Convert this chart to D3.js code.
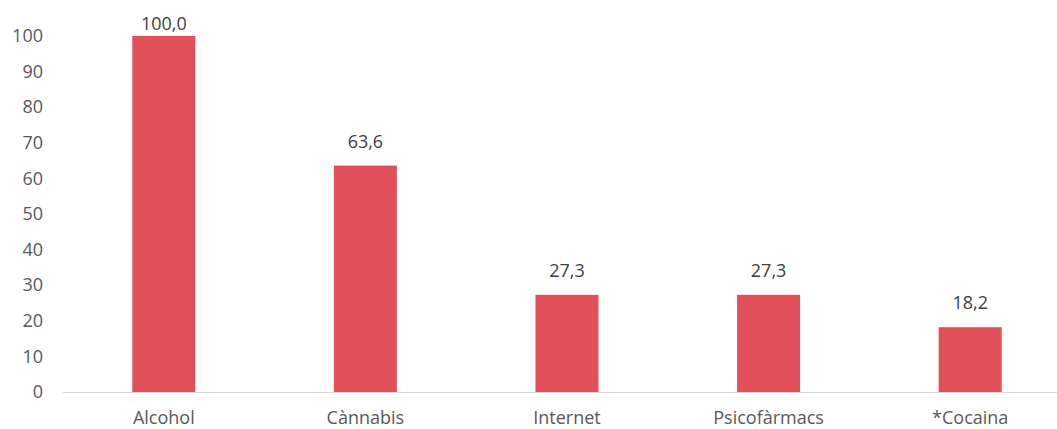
<!DOCTYPE html>
<html>
<head>
<meta charset="utf-8">
<script src="https://cdn.jsdelivr.net/npm/d3@7"></script>
<style>
  body { margin: 0; background: #fff; }
  text { font-family: "Open Sans", sans-serif; }
</style>
</head>
<body>
<div id="chart"></div>
<script>
const width = 1057;
const height = 429;

const categories = ['Alcohol', 'Cànnabis', 'Internet', 'Psicofàrmacs', '*Cocaina'];
const values = [100.0, 63.6, 27.3, 27.3, 18.2];
const yTicks = [0, 10, 20, 30, 40, 50, 60, 70, 80, 90, 100];

const barColor = '#E2505A';
const fmt = v => d3.format('.1f')(v).replace('.', ',');

const svg = d3.select('#chart')
  .append('svg')
    .attr('width', width)
    .attr('height', height);

const x = d3.scaleBand()
  .domain(categories)
  .range([63, 1071])
  .paddingInner(0.6875)
  .paddingOuter(0.34375);

const y = d3.scaleLinear().domain([0, 100]).range([392, 36]);

// y axis labels, no line
const yAxis = svg.append('g')
  .attr('transform', 'translate(43,0)')
  .call(d3.axisLeft(y).tickValues(yTicks).tickSize(0).tickPadding(0));
yAxis.select('.domain').remove();
yAxis.selectAll('text')
  .attr('font-size', 18)
  .attr('fill', '#595959')
  .attr('font-family', '"Open Sans", sans-serif');

// bars
svg.append('g').selectAll('rect')
  .data(categories)
  .join('rect')
    .attr('x', d => x(d))
    .attr('y', (d, i) => y(values[i]))
    .attr('width', x.bandwidth())
    .attr('height', (d, i) => y(0) - y(values[i]))
    .attr('fill', barColor);

// baseline
svg.append('line')
  .attr('x1', 63).attr('x2', width)
  .attr('y1', y(0) + 0.5).attr('y2', y(0) + 0.5)
  .attr('stroke', '#d9d9d9')
  .attr('stroke-width', 1);

// x axis labels
const xAxis = svg.append('g')
  .attr('transform', `translate(0,${y(0)})`)
  .call(d3.axisBottom(x).tickSize(0).tickPadding(0));
xAxis.select('.domain').remove();
xAxis.selectAll('text')
  .attr('dy', null)
  .attr('y', 32)
  .attr('font-size', 18)
  .attr('fill', '#595959')
  .attr('font-family', '"Open Sans", sans-serif');

// data labels
svg.append('g').selectAll('text')
  .data(categories)
  .join('text')
    .attr('x', d => x(d) + x.bandwidth() / 2)
    .attr('y', (d, i) => Math.max(y(values[i]) - 18, 30))
    .attr('text-anchor', 'middle')
    .attr('font-size', 18)
    .attr('fill', '#404040')
    .text((d, i) => fmt(values[i]));
</script>
</body>
</html>
